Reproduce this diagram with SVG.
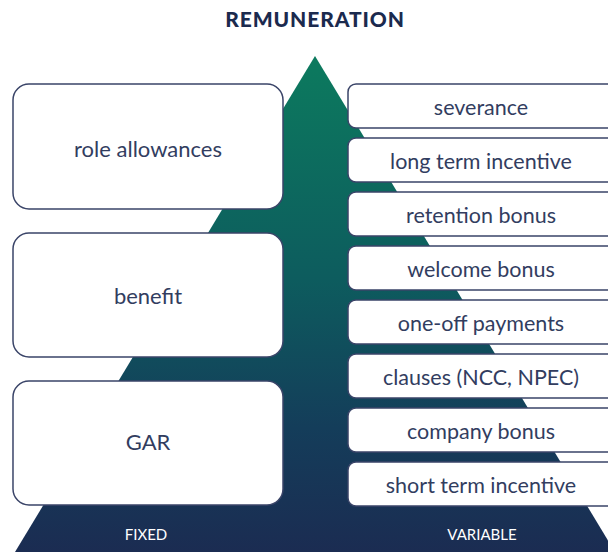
<svg xmlns="http://www.w3.org/2000/svg" width="608" height="552" viewBox="0 0 608 552">
<defs>
<linearGradient id="g" x1="0" y1="56" x2="0" y2="552" gradientUnits="userSpaceOnUse">
<stop offset="0" stop-color="#0c7a5e"/>
<stop offset="0.45" stop-color="#0d5c5e"/>
<stop offset="0.75" stop-color="#143d5a"/>
<stop offset="1" stop-color="#1b2c52"/>
</linearGradient>
<style>
.box{fill:#fff;stroke:#3a4468;stroke-width:1.5}
.lbl{font-family:Lato,"Noto Sans",sans-serif;font-size:21.5px;fill:#323d5f;text-anchor:middle}
.big{font-size:22px}
.foot{font-family:Lato,"Noto Sans",sans-serif;font-size:15px;fill:#fff;text-anchor:middle}
.title{font-family:Lato,"Noto Sans",sans-serif;font-size:21px;letter-spacing:0.9px;font-weight:900;fill:#1b2a4e;text-anchor:middle}
</style>
</defs>
<rect width="608" height="552" fill="#fff"/>
<text class="title" x="315" y="27">REMUNERATION</text>
<polygon points="315,56 15,552 615,552" fill="url(#g)"/>
<g id="connectors"/>
<g id="role"><rect class="box" x="13" y="84" width="270" height="125" rx="16"/><text class="lbl big" x="148" y="157">role allowances</text></g>
<g id="benefit"><rect class="box" x="13" y="233" width="270" height="124" rx="16"/><text class="lbl big" x="148" y="304">benefit</text></g>
<g id="gar"><rect class="box" x="13" y="381" width="270" height="124" rx="16"/><text class="lbl big" x="148" y="450">GAR</text></g>
<g id="severance"><rect class="box" x="348" y="84" width="270" height="44" rx="8"/><text class="lbl" x="481" y="115">severance</text></g>
<g id="lti"><rect class="box" x="348" y="138" width="270" height="44" rx="8"/><text class="lbl" x="481" y="169">long term incentive</text></g>
<g id="retention"><rect class="box" x="348" y="192" width="270" height="44" rx="8"/><text class="lbl" x="481" y="223">retention bonus</text></g>
<g id="welcome"><rect class="box" x="348" y="246" width="270" height="44" rx="8"/><text class="lbl" x="481" y="277">welcome bonus</text></g>
<g id="oneoff"><rect class="box" x="348" y="300" width="270" height="44" rx="8"/><text class="lbl" x="481" y="331">one-off payments</text></g>
<g id="clauses"><rect class="box" x="348" y="354" width="270" height="44" rx="8"/><text class="lbl" x="481" y="385">clauses (NCC, NPEC)</text></g>
<g id="company"><rect class="box" x="348" y="408" width="270" height="44" rx="8"/><text class="lbl" x="481" y="439">company bonus</text></g>
<g id="sti"><rect class="box" x="348" y="462" width="270" height="44" rx="8"/><text class="lbl" x="481" y="493">short term incentive</text></g>
<text class="foot" x="146" y="540">FIXED</text>
<text class="foot" x="482" y="540">VARIABLE</text>
</svg>
